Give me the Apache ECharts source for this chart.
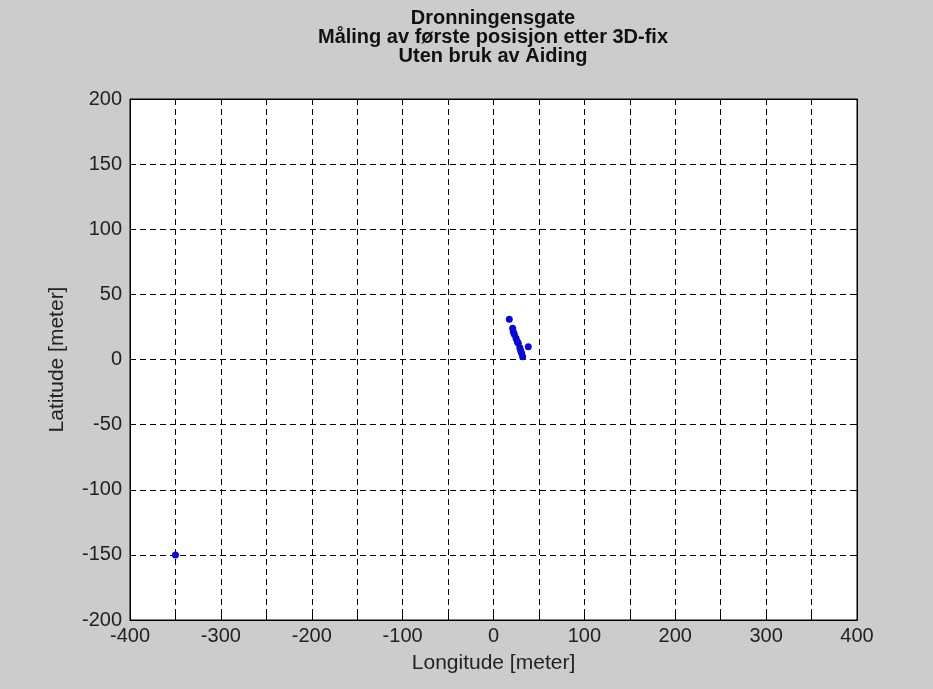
<!DOCTYPE html>
<html>
<head>
<meta charset="utf-8">
<script src="https://cdn.jsdelivr.net/npm/echarts@6/dist/echarts.min.js"></script>
<style>
  html, body { margin: 0; padding: 0; background: #cccccc; }
  #chart { width: 933px; height: 689px; }
</style>
</head>
<body>
<div id="chart"></div>
<script>
// First position fixes (metres relative to reference point)
const longitude = [17.4, 21.1, 21.8, 22.9, 24.8, 26.2, 27.3, 38.3, 29.0, 29.9, 31.0, 32.1, -350];
const latitude  = [30.9, 24.0, 21.3, 19.3, 16.3, 13.7, 12.4, 9.8, 9.0, 6.8, 4.8, 2.1, -150];
const titleLines = ['Dronningensgate', 'Måling av første posisjon etter 3D-fix', 'Uten bruk av Aiding'];
const xRange = [-400, 400];
const yRange = [-200, 200];
const step = 50;

const points = longitude.map((x, i) => [x, latitude[i]]);

const font = 'Liberation Sans, Arial, sans-serif';
const gridLine = { show: true, lineStyle: { color: '#000', type: [6, 4], width: 1 } };
const tickIn = { show: true, inside: true, length: 5, lineStyle: { color: '#000' } };
const axisLine = { show: true, onZero: false, lineStyle: { color: '#000' } };

// mirror axes on top/right carry only the inward ticks of the box
const mirror = (pos, range) => ({
  type: 'value', position: pos, min: range[0], max: range[1], interval: step,
  axisLine: axisLine, axisTick: tickIn, axisLabel: { show: false }, splitLine: { show: false }
});

const chart = echarts.init(document.getElementById('chart'));
chart.setOption({
  backgroundColor: '#cccccc',
  animation: false,
  title: {
    text: titleLines.join('\n'),
    left: 493, top: 9, padding: 0,
    textAlign: 'center',
    textStyle: { fontFamily: font, fontSize: 20, fontWeight: 'bold', color: '#111', lineHeight: 19 }
  },
  grid: {
    left: 130, right: 76, top: 99, bottom: 69,
    show: true, backgroundColor: '#ffffff', borderColor: '#000', borderWidth: 1
  },
  xAxis: [{
    type: 'value', min: xRange[0], max: xRange[1], interval: step, position: 'bottom',
    name: 'Longitude [meter]', nameLocation: 'middle', nameGap: 33,
    nameTextStyle: { fontFamily: font, fontSize: 21, color: '#222' },
    axisLine: axisLine,
    axisTick: tickIn,
    splitLine: gridLine,
    axisLabel: {
      fontFamily: font, fontSize: 20, color: '#222', margin: 6,
      formatter: v => (v % 100 === 0 ? String(v) : '')
    }
  }, mirror('top', xRange)],
  yAxis: [{
    type: 'value', min: yRange[0], max: yRange[1], interval: step, position: 'left',
    name: 'Latitude [meter]', nameLocation: 'middle', nameGap: 62,
    nameTextStyle: { fontFamily: font, fontSize: 21, color: '#222' },
    axisLine: axisLine,
    axisTick: tickIn,
    splitLine: gridLine,
    axisLabel: { fontFamily: font, fontSize: 20, color: '#222', margin: 8 }
  }, mirror('right', yRange)],
  series: [{
    type: 'scatter',
    data: points,
    symbol: 'circle',
    symbolSize: 7,
    itemStyle: { color: '#0a0ad0', opacity: 1 }
  }]
});
</script>
</body>
</html>
